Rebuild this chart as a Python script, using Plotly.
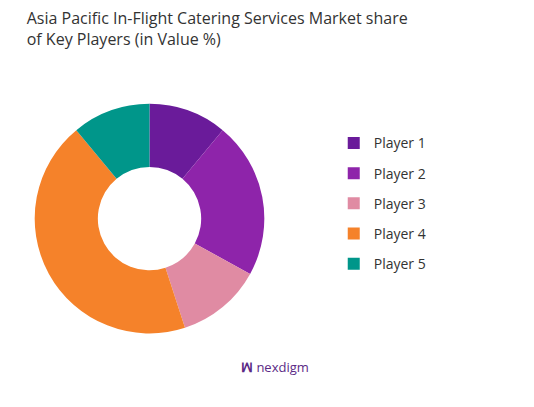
import plotly.graph_objects as go

labels = ["Player 1", "Player 2", "Player 3", "Player 4", "Player 5"]
values = [11, 22, 12, 44, 11]
colors = ["#6A1B9A", "#8E24AA", "#E08BA3", "#F5822A", "#00968A"]

fig = go.Figure(go.Pie(
    labels=labels, values=values, hole=0.45, sort=False, direction="clockwise",
    rotation=0, marker=dict(colors=colors), textinfo="none", showlegend=False,
    domain=dict(x=[0.05, 0.48], y=[0.2, 0.765])
))
for lab, col in zip(labels, colors):
    fig.add_trace(go.Scatter(x=[None], y=[None], mode="markers", name=lab, legendgroup=lab,
                             marker=dict(symbol="square", size=12, color=col)))
fig.update_layout(
    width=534, height=407, paper_bgcolor="white", plot_bgcolor="white",
    margin=dict(l=0, r=0, t=0, b=0),
    xaxis=dict(visible=False), yaxis=dict(visible=False),
    font=dict(family="Open Sans, sans-serif", color="#333"),
    title=dict(text="Asia Pacific In-Flight Catering Services Market share<br>of Key Players (in Value %)",
               x=0.035, xanchor="left", y=0.96, yanchor="top",
               font=dict(size=16, color="#333", weight=500)),
    legend=dict(x=0.61, y=0.52, yanchor="middle", font=dict(size=14, color="#333"),
                tracegroupgap=9, itemsizing="constant"),
    annotations=[dict(text="<b>ꟽ</b> nexdigm", x=0.5, y=0.09, xref="paper", yref="paper",
                      showarrow=False, font=dict(size=13, color="#5B2A86"))]
)
fig.write_html("out.html")
